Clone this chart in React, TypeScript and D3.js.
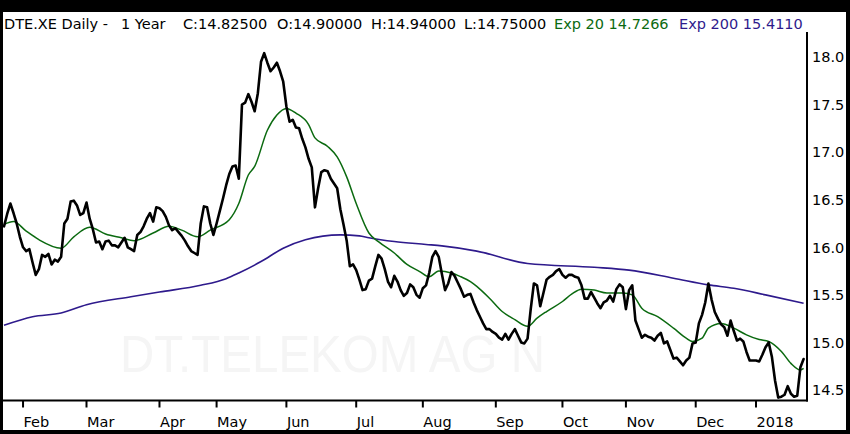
import React from "react";
import * as d3 from "d3";

// Daily closes, 24 Jan 2017 .. 23 Jan 2018 (trading-day index 0..252)
const closes: number[] = [
  16.22, 16.35, 16.46, 16.36, 16.25, 16.11, 16.0, 15.96, 15.98, 15.84,
  15.71, 15.77, 15.92, 15.9, 15.93, 15.82, 15.87, 15.85, 15.9, 16.25,
  16.3, 16.48, 16.49, 16.44, 16.34, 16.36, 16.47, 16.3, 16.19, 16.05,
  16.06, 15.98, 16.06, 16.07, 16.02, 16.02, 16.0, 16.05, 16.1, 16.0,
  15.98, 15.96, 16.13, 16.16, 16.22, 16.3, 16.36, 16.27, 16.42, 16.41,
  16.38, 16.32, 16.23, 16.18, 16.2, 16.16, 16.12, 16.07, 16.01, 15.96,
  15.94, 15.92, 16.25, 16.43, 16.42, 16.25, 16.13, 16.25, 16.38, 16.51,
  16.65, 16.77, 16.85, 16.86, 16.72, 17.5, 17.52, 17.61, 17.53, 17.43,
  17.62, 17.95, 18.04, 17.94, 17.85, 17.89, 17.94, 17.85, 17.74, 17.48,
  17.32, 17.34, 17.26, 17.25, 17.14, 17.05, 16.93, 16.84, 16.42, 16.62,
  16.79, 16.81, 16.8, 16.72, 16.67, 16.62, 16.4, 16.24, 16.07, 15.8,
  15.82, 15.76, 15.66, 15.55, 15.56, 15.65, 15.67, 15.8, 15.92, 15.88,
  15.77, 15.64, 15.58, 15.7, 15.64, 15.55, 15.49, 15.52, 15.61, 15.58,
  15.5, 15.47, 15.57, 15.6, 15.73, 15.9, 15.96, 15.9, 15.72, 15.55,
  15.62, 15.74, 15.7, 15.63, 15.56, 15.48, 15.5, 15.51, 15.42, 15.34,
  15.27, 15.2, 15.14, 15.14, 15.11, 15.09, 15.05, 15.03, 15.09, 15.03,
  15.09, 15.14, 15.07, 15.0, 14.99, 15.04, 15.35, 15.62, 15.6, 15.38,
  15.52, 15.66, 15.69, 15.71, 15.75, 15.77, 15.71, 15.68, 15.71, 15.71,
  15.69, 15.68, 15.6, 15.46, 15.46, 15.53, 15.47, 15.41, 15.36, 15.42,
  15.44, 15.49, 15.43, 15.56, 15.61, 15.58, 15.35, 15.55, 15.6, 15.23,
  15.14, 15.05, 15.08, 15.06, 15.05, 15.02, 15.07, 15.1, 14.99, 15.01,
  14.92, 14.83, 14.84, 14.8, 14.76, 14.81, 14.84, 14.99, 15.0, 15.2,
  15.29, 15.42, 15.62, 15.45, 15.32, 15.25, 15.19, 15.16, 15.07, 15.23,
  15.12, 15.02, 15.04, 15.01, 14.9, 14.81, 14.81, 14.81, 14.8, 14.87,
  14.95, 15.0, 14.85, 14.6, 14.42, 14.43, 14.45, 14.54, 14.46, 14.43,
  14.44, 14.74, 14.825,
];

// Exp 20 moving average (trading-day index, value)
const ema20Days: number[] = [
  0, 3, 7, 11, 18, 22, 27, 32, 37, 41, 47, 52, 56, 61, 65, 71, 74, 77, 79, 83,
  86, 89, 92, 96, 98, 102, 105, 108, 111, 115, 118, 123, 127, 131, 134, 137, 141, 144, 147, 149,
  153, 157, 161, 165, 168, 171, 176, 179, 182, 186, 190, 195, 198, 201, 206, 211, 215, 217, 220, 222,
  226, 230, 234, 238, 241, 245, 248, 251, 252,
];
const ema20Values: number[] = [
  16.24, 16.27, 16.17, 16.08, 15.99, 16.11, 16.21, 16.14, 16.1, 16.07,
  16.15, 16.22, 16.18, 16.11, 16.18, 16.29, 16.46, 16.76, 16.85, 17.23,
  17.39, 17.46, 17.41, 17.29, 17.15, 17.06, 16.95, 16.74, 16.46, 16.15,
  16.06, 15.94, 15.82, 15.745, 15.69, 15.75, 15.73, 15.69, 15.64, 15.59,
  15.465, 15.325, 15.24, 15.17, 15.255, 15.325, 15.43, 15.51, 15.56, 15.55,
  15.52, 15.52, 15.5, 15.36, 15.27, 15.15, 15.045, 15.01, 15.045, 15.15,
  15.2, 15.15, 15.08, 15.03, 15.01, 14.905, 14.78, 14.71, 14.7266,
];

// Exp 200 moving average
const ema200Days: number[] = [
  0, 9, 18, 26, 40, 49, 62, 70, 74, 81, 88, 95, 106, 112, 115, 123, 133, 138, 149, 165,
  186, 197, 211, 222, 230, 240, 252,
];
const ema200Values: number[] = [
  15.18, 15.27, 15.31, 15.395, 15.48, 15.53, 15.6, 15.67, 15.73, 15.85,
  15.99, 16.08, 16.13, 16.12, 16.1, 16.06, 16.03, 16.015, 15.96, 15.83,
  15.79, 15.76, 15.675, 15.605, 15.57, 15.5, 15.411,
];

const monthLabels: string[] = ["Feb", "Mar", "Apr", "May", "Jun", "Jul", "Aug", "Sep", "Oct", "Nov", "Dec", "2018"];
const monthStartDays: number[] = [6, 26, 49, 67, 89, 111, 132, 155, 176, 196, 218, 237];
const priceTicks: number[] = [14.5, 15.0, 15.5, 16.0, 16.5, 17.0, 17.5, 18.0];

const titleMain: string[] = ["DTE.XE Daily -", "1 Year", "C:14.82500", "O:14.90000", "H:14.94000", "L:14.75000"];
const titleEma20 = "Exp 20 14.7266";
const titleEma200 = "Exp 200 15.4110";
const watermark = "DT.TELEKOM AG N";

const W = 850;
const H = 434;
const FONT = "'DejaVu Sans', Verdana, sans-serif";
const GREEN = "#0b6a10";
const PURPLE = "#2e1a8c";

export default function App() {
  const x = d3.scaleLinear().domain([0, closes.length - 1]).range([4, 803.6]);
  const y = d3.scaleLinear().domain([14.5, 18]).range([390, 57]);

  const priceLine = d3
    .line<number>()
    .x((_, i) => x(i))
    .y((d) => y(d))
    .curve(d3.curveLinear);

  const emaLine = d3
    .line<[number, number]>()
    .x((d) => x(d[0]))
    .y((d) => y(d[1]))
    .curve(d3.curveMonotoneX);

  const ema20Pts: [number, number][] = ema20Days.map((d, i) => [d, ema20Values[i]]);
  const ema200Pts: [number, number][] = ema200Days.map((d, i) => [d, ema200Values[i]]);

  const axisY = 400.5;
  const axisX = 807;
  const titleX = [4, 121, 183, 277, 371, 464];

  return (
    <svg
      width={W}
      height={H}
      viewBox={`0 0 ${W} ${H}`}
      style={{ position: "fixed", left: 0, top: 0, display: "block" }}
      fontFamily={FONT}
    >
      <rect x={0} y={0} width={W} height={H} fill="#000" />
      <rect x={3} y={12} width={843} height={418} fill="#fff" />

      <text
        x={120}
        y={372}
        fontFamily="'Liberation Sans', Arial, sans-serif"
        fontSize={52}
        fill="#f5f5f5"
        textLength={425}
        lengthAdjust="spacingAndGlyphs"
      >
        {watermark}
      </text>

      <path d={emaLine(ema200Pts) || ""} fill="none" stroke={PURPLE} strokeWidth={1.6} />
      <path d={emaLine(ema20Pts) || ""} fill="none" stroke={GREEN} strokeWidth={1.5} />
      <path
        d={priceLine(closes) || ""}
        fill="none"
        stroke="#000"
        strokeWidth={2.6}
        strokeLinejoin="round"
        strokeLinecap="round"
      />

      <line x1={3} x2={axisX + 1} y1={axisY} y2={axisY} stroke="#000" strokeWidth={2} />
      <line x1={axisX} x2={axisX} y1={32} y2={axisY + 1} stroke="#000" strokeWidth={2} />

      {monthStartDays.map((d, i) => (
        <g key={monthLabels[i]}>
          <line x1={x(d)} x2={x(d)} y1={axisY} y2={axisY + 7} stroke="#000" strokeWidth={2} />
          <text x={x(d) + 0.5} y={426.5} fontSize={14.5} fill="#000">
            {monthLabels[i]}
          </text>
        </g>
      ))}

      {priceTicks.map((t) => (
        <text key={t} x={812} y={y(t)} dy="0.36em" fontSize={14.5} fill="#000">
          {t.toFixed(1)}
        </text>
      ))}

      <text y={28.5} fontSize={14.5} fill="#000">
        {titleMain.map((s, i) => (
          <tspan key={s} x={titleX[i]}>
            {s}
          </tspan>
        ))}
        <tspan x={554} fill={GREEN}>
          {titleEma20}
        </tspan>
        <tspan x={679} fill={PURPLE}>
          {titleEma200}
        </tspan>
      </text>
    </svg>
  );
}
